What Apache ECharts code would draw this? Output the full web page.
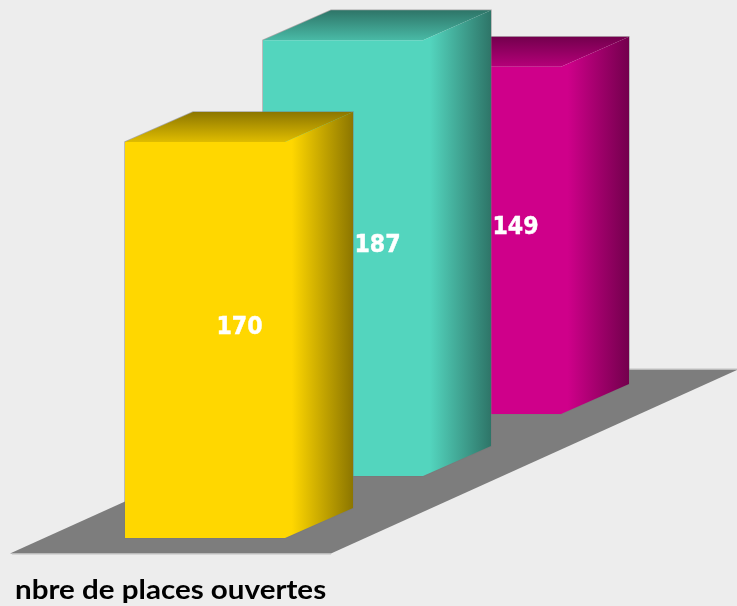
<!DOCTYPE html>
<html><head><meta charset="utf-8">
<style>html,body{margin:0;padding:0;background:#ededed}#c{width:737px;height:606px}</style>
<script src="https://cdn.jsdelivr.net/npm/echarts@6/dist/echarts.min.js"></script>
</head><body><div id="c"></div>
<script>
const categories = ['A', 'B', 'C'];
const values = [170, 187, 149];
const seriesTitle = 'nbre de places ouvertes';
const frontColors = ['#FFD700', '#53D5BE', '#CF008A'];
const darkColors = ['#8C7600', '#2E7568', '#73004D'];

const DX = 68, DY = -30, ROW_DY = -62, WIDTH_RATIO = 160 / 138;
const mix = (a, b, t) => {
  const p = s => [1, 3, 5].map(i => parseInt(s.substr(i, 2), 16));
  const x = p(a), y = p(b);
  return 'rgb(' + x.map((v, i) => Math.round(v + (y[i] - v) * t)).join(',') + ')';
};
const grad = (x0, y0, x1, y1, stops) => ({
  type: 'linear', x: x0, y: y0, x2: x1, y2: y1, global: false,
  colorStops: stops.map(s => ({ offset: s[0], color: s[1] }))
});

function renderBar(params, api) {
  const i = api.value(0), v = api.value(1);
  const base = api.coord([i, 0]), top = api.coord([i, v]);
  const w = api.size([1, 0])[0] * WIDTH_RATIO;
  const shift = ROW_DY * i;
  const x0 = base[0] - w / 2, x1 = base[0] + w / 2;
  const yb = base[1] + shift, yt = top[1] + shift;
  const f = frontColors[i], d = darkColors[i];
  const z = (categories.length - i) * 10;
  const poly = (points, fill, k) => ({
    type: 'polygon', z2: z + k, shape: { points },
    style: { fill, stroke: null }
  });
  return {
    type: 'group',
    children: [
      {
        type: 'polygon', z2: z - 1,
        shape: { points: [[x0, yb], [x0, yt], [x0 + DX, yt + DY], [x1 + DX, yt + DY], [x1 + DX, yb + DY], [x1, yb]] },
        style: { fill: 'none', stroke: 'rgba(120,120,120,0.6)', lineWidth: 1.4 }
      },
      poly([[x0 + DX, yt + DY], [x1 + DX, yt + DY], [x1, yt], [x0, yt]],
        grad(0, 0, 0, 1, [[0, d], [1, mix(f, d, 0.28)]]), 0),
      poly([[x1, yt], [x1 + DX, yt + DY], [x1 + DX, yb + DY], [x1, yb]],
        grad(0, 0, 1, 0, [[0, f], [0.1, f], [1, d]]), 1),
      poly([[x0, yt], [x1, yt], [x1, yb], [x0, yb]], f, 2),
      {
        type: 'text', z2: z + 5,
        x: (x0 + x1 + DX) / 2 + 0.5, y: (yt + DY + yb) / 2 + 2.5, scaleX: 0.885,
        style: {
          text: String(v),
          align: 'center', verticalAlign: 'middle',
          fill: '#ffffff', stroke: '#ffffff', lineWidth: 0.5,
          font: 'bold 25px "DejaVu Sans"'
        }
      }
    ]
  };
}

function renderFloor(params, api) {
  const o = api.coord([0, 0]), w = api.size([1, 0])[0] * WIDTH_RATIO;
  const xl = o[0] - w / 2 - 115, yb = o[1] + 15.5;
  const len = 407, rise = -184, wide = 321;
  const edge = (x1, x2, y) => ({
    type: 'line', z2: 1, shape: { x1, y1: y, x2, y2: y },
    style: { stroke: '#c0c0c0', lineWidth: 1 }
  });
  return {
    type: 'group',
    children: [
      {
        type: 'polygon', z2: 0,
        shape: { points: [[xl, yb], [xl + wide, yb], [xl + wide + len, yb + rise], [xl + len, yb + rise]] },
        style: { fill: '#7d7d7d', stroke: null }
      },
      edge(xl + 2, xl + wide, yb + 0.5),
      edge(xl + len, xl + wide + len, yb + rise - 0.5)
    ]
  };
}

const chart = echarts.init(document.getElementById('c'), null, { renderer: 'canvas' });
chart.setOption({
  animation: false,
  backgroundColor: '#ededed',
  graphic: [{
    type: 'text', x: 15, y: 590, scaleX: 1.095,
    style: {
      text: seriesTitle, fill: '#000',
      align: 'left', verticalAlign: 'middle',
      font: 'bold 27px Lato'
    }
  }],
  grid: { left: 136, width: 414, top: 72, height: 466 },
  xAxis: { type: 'category', data: categories, show: false },
  yAxis: { type: 'value', min: 0, max: 200, show: false },
  series: [
    { type: 'custom', z: 1, clip: false, silent: true, renderItem: renderFloor, data: [[0, 0]], encode: { x: 0, y: 1 } },
    { type: 'custom', z: 2, clip: false, renderItem: renderBar,
      data: categories.map((c, i) => [i, values[i]]), encode: { x: 0, y: 1 } }
  ]
});
</script></body></html>
